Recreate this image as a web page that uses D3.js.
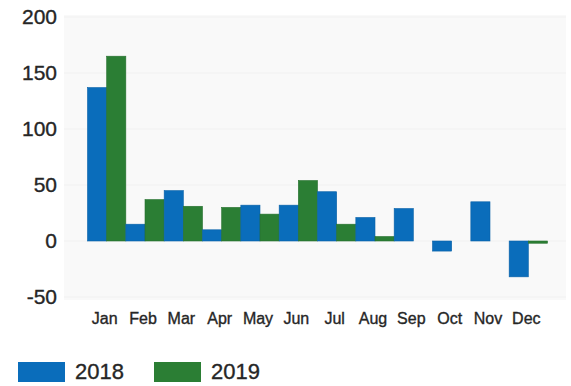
<!DOCTYPE html>
<html>
<head>
<meta charset="utf-8">
<script src="https://cdn.jsdelivr.net/npm/d3@7"></script>
<style>
  html, body { margin: 0; padding: 0; background: #ffffff; }
  svg { display: block; font-family: "Liberation Sans", Arial, sans-serif; }
</style>
</head>
<body>
<svg id="chart" width="571" height="386"></svg>
<script>
// Monthly values for two years
const months = ["Jan", "Feb", "Mar", "Apr", "May", "Jun", "Jul", "Aug", "Sep", "Oct", "Nov", "Dec"];
const series = ["2018", "2019"];
const values2018 = [137, 15, 45, 10, 32, 32, 44, 21, 29, -9, 35, -32];
const values2019 = [165, 37, 31, 30, 24, 54, 15, 4, null, null, null, -2];
const yTicks = [-50, 0, 50, 100, 150, 200];
const colors = ["#0a6dbb", "#2b7e34"];

const svg = d3.select("#chart");

const x = d3.scaleBand().domain(months).range([87.5, 547.5]).paddingInner(0).paddingOuter(0);
const xSub = d3.scaleBand().domain(series).range([0, x.bandwidth()]);
const y = d3.scaleLinear().domain([-50, 200]).range([297, 17]);

// light plot panel
svg.append("rect")
  .attr("x", 64).attr("y", 15)
  .attr("width", 502).attr("height", 285)
  .attr("fill", "#f9f9f9");

// faint grid
svg.append("g").selectAll("line").data(yTicks).join("line")
  .attr("x1", 64).attr("x2", 566)
  .attr("y1", d => y(d)).attr("y2", d => y(d))
  .attr("stroke", "#f1f1f1").attr("stroke-width", 1);

// shared label styling: dark grey, slightly heavy
function styleText(sel, size) {
  sel.attr("font-size", size)
    .attr("fill", "#262626")
    .attr("stroke", "#262626")
    .attr("stroke-width", 0.35)
    .attr("font-family", "Liberation Sans, Arial, sans-serif");
}

// y axis labels (plain hyphen for negatives)
const yAxis = d3.axisLeft(y).tickValues(yTicks).tickSize(0).tickPadding(0).tickFormat(d => String(d));
const gy = svg.append("g").attr("transform", "translate(57,0)").call(yAxis);
gy.select(".domain").remove();
styleText(gy.selectAll("text"), 21);

// x axis labels
const xAxis = d3.axisBottom(x).tickSize(0).tickPadding(0);
const gx = svg.append("g").attr("transform", "translate(-2,313)").call(xAxis);
gx.select(".domain").remove();
styleText(gx.selectAll("text"), 16);

// bars
const rows = months.map((m, i) => ({ month: m, vals: [values2018[i], values2019[i]] }));
const groups = svg.append("g").selectAll("g").data(rows).join("g")
  .attr("transform", d => `translate(${x(d.month)},0)`);

groups.selectAll("rect")
  .data(d => d.vals.map((v, j) => ({ key: series[j], value: v, idx: j })).filter(e => e.value !== null))
  .join("rect")
  .attr("x", d => xSub(d.key))
  .attr("width", xSub.bandwidth())
  .attr("y", d => Math.min(y(d.value), y(0)))
  .attr("height", d => Math.max(Math.abs(y(d.value) - y(0)), 2))
  .attr("fill", d => colors[d.idx])
  .attr("stroke", d => d3.color(colors[d.idx]).darker(0.3))
  .attr("stroke-width", 0.6);

// legend
const legend = svg.append("g").selectAll("g").data(series).join("g")
  .attr("transform", (d, i) => `translate(${18 + i * 136},362)`);
legend.append("rect")
  .attr("width", 47).attr("height", 20)
  .attr("fill", (d, i) => colors[i]);
styleText(legend.append("text")
  .attr("x", 57).attr("y", 17)
  .text(d => d), 22);
</script>
</body>
</html>
